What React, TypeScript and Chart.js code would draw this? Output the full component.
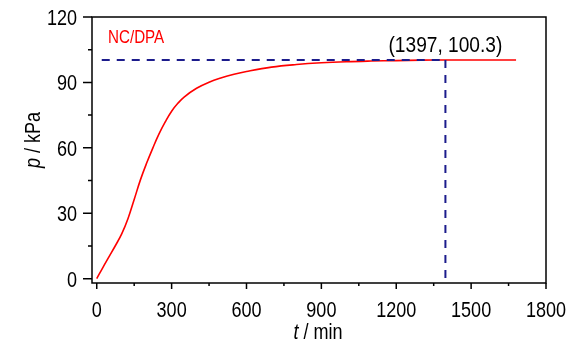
import React, { useEffect, useRef } from "react";
import { Chart, registerables } from "chart.js";

Chart.register(...registerables);

// ---- data ----
const timeMin = [0, 25, 50, 75, 100, 125, 150, 175, 200, 225, 250, 275, 300, 325, 350, 400, 450, 500, 550, 600, 700, 800, 900, 1000, 1100, 1200, 1300, 1400, 1500, 1600, 1680];
const pressureKPa = [0, 5.2, 10.2, 15.2, 20.5, 27.5, 36.3, 45.3, 53, 60, 66.5, 72, 76.8, 80.4, 83.3, 87.3, 90.1, 92.1, 93.7, 95.0, 97.0, 98.2, 99.0, 99.5, 99.8, 100.0, 100.2, 100.3, 100.3, 100.3, 100.3];

const xTickValues = [0, 300, 600, 900, 1200, 1500, 1800];
const xMinorTickValues = [150, 450, 750, 1050, 1350, 1650];
const yTickValues = [0, 30, 60, 90, 120];
const yMinorTickValues = [15, 45, 75, 105];

const markT = 1397;
const markP = 100.3;
const guideStartT = 20;
const markLabel = "(1397, 100.3)";
const seriesLabel = "NC/DPA";
const xTitleItalic = "t";
const xTitleRest = " / min";
const yTitleItalic = "p";
const yTitleRest = " / kPa";

const FONT = "'Liberation Sans', Arial, sans-serif";
const NAVY = "#1c1c8c";
const NARROW = 0.82;

// draw text made of parts [text, font] horizontally condensed by sx
function drawParts(ctx: CanvasRenderingContext2D, parts: [string, string][], x: number, y: number, align: "left" | "center" | "right", sx: number) {
  let total = 0;
  const widths: number[] = [];
  for (const [t, f] of parts) {
    ctx.font = f;
    const w = ctx.measureText(t).width;
    widths.push(w);
    total += w;
  }
  let start = 0;
  if (align === "center") start = -total / 2;
  else if (align === "right") start = -total;
  ctx.save();
  ctx.translate(x, y);
  ctx.scale(sx, 1);
  ctx.textAlign = "left";
  ctx.textBaseline = "alphabetic";
  let cx = start;
  parts.forEach(([t, f], i) => {
    ctx.font = f;
    ctx.fillText(t, cx, 0);
    cx += widths[i];
  });
  ctx.restore();
}

const decorPlugin = {
  id: "decor",
  afterDraw(chart: any) {
    const { ctx, chartArea, scales } = chart;
    const xs = scales.x;
    const ys = scales.y;
    ctx.save();
    // frame
    ctx.strokeStyle = "#000";
    ctx.lineWidth = 1.5;
    ctx.strokeRect(chartArea.left, chartArea.top, chartArea.right - chartArea.left, chartArea.bottom - chartArea.top);
    // ticks
    ctx.beginPath();
    for (const v of xTickValues) {
      const px = xs.getPixelForValue(v);
      ctx.moveTo(px, chartArea.bottom);
      ctx.lineTo(px, chartArea.bottom + 6);
    }
    for (const v of xMinorTickValues) {
      const px = xs.getPixelForValue(v);
      ctx.moveTo(px, chartArea.bottom);
      ctx.lineTo(px, chartArea.bottom + 3);
    }
    for (const v of yTickValues) {
      const py = ys.getPixelForValue(v);
      ctx.moveTo(chartArea.left, py);
      ctx.lineTo(chartArea.left - 9, py);
    }
    for (const v of yMinorTickValues) {
      const py = ys.getPixelForValue(v);
      ctx.moveTo(chartArea.left, py);
      ctx.lineTo(chartArea.left - 4, py);
    }
    ctx.stroke();

    const normal = `22px ${FONT}`;
    const italic = `italic 22px ${FONT}`;

    // tick labels
    ctx.fillStyle = "#000";
    for (const v of xTickValues) {
      drawParts(ctx, [[String(v), normal]], xs.getPixelForValue(v), chartArea.bottom + 34, "center", NARROW);
    }
    for (const v of yTickValues) {
      drawParts(ctx, [[String(v), normal]], chartArea.left - 15, ys.getPixelForValue(v) + 8, "right", NARROW);
    }

    // series label
    ctx.fillStyle = "#ff0000";
    drawParts(ctx, [[seriesLabel, `18.5px ${FONT}`]], chartArea.left + 16, 43, "left", NARROW);

    // mark label
    ctx.fillStyle = "#000";
    drawParts(ctx, [[markLabel, normal]], xs.getPixelForValue(markT), ys.getPixelForValue(markP) - 8, "center", 0.87);

    // x title
    drawParts(ctx, [[xTitleItalic, italic], [xTitleRest, normal]], (chartArea.left + chartArea.right) / 2 - 1, 339, "center", NARROW);

    // y title
    ctx.save();
    ctx.translate(40, 140);
    ctx.rotate(-Math.PI / 2);
    drawParts(ctx, [[yTitleItalic, italic], [yTitleRest, normal]], 0, 0, "center", NARROW);
    ctx.restore();

    ctx.restore();
  },
};

export default function App() {
  const canvasRef = useRef<HTMLCanvasElement | null>(null);

  useEffect(() => {
    const canvas = canvasRef.current;
    if (!canvas) return;
    const curve = timeMin.map((t, i) => ({ x: t, y: pressureKPa[i] }));
    const hGuide = [
      { x: guideStartT, y: markP },
      { x: markT, y: markP },
    ];
    const vGuide = [
      { x: markT, y: markP },
      { x: markT, y: 0 },
    ];
    const chart = new Chart(canvas, {
      type: "line",
      data: {
        datasets: [
          {
            label: "guide-h",
            data: hGuide,
            borderColor: NAVY,
            borderWidth: 2,
            borderDash: [8, 7],
            pointRadius: 0,
            order: 0,
          },
          {
            label: "guide-v",
            data: vGuide,
            borderColor: NAVY,
            borderWidth: 2,
            borderDash: [8, 7],
            pointRadius: 0,
            order: 0,
          },
          {
            label: seriesLabel,
            data: curve,
            borderColor: "#ff0000",
            borderWidth: 1.6,
            pointRadius: 0,
            tension: 0.4,
            order: 1,
          },
        ],
      },
      options: {
        animation: false,
        responsive: false,
        devicePixelRatio: 1,
        layout: { padding: { top: 17, right: 30, left: 0, bottom: 0 } },
        plugins: { legend: { display: false }, tooltip: { enabled: false } },
        scales: {
          x: {
            type: "linear",
            min: -19,
            max: 1800,
            grid: { display: false },
            border: { display: false },
            afterBuildTicks: (s: any) => {
              s.ticks = xTickValues.map((v) => ({ value: v }));
            },
            afterFit: (s: any) => {
              s.height = 61;
            },
            ticks: { display: false },
          },
          y: {
            type: "linear",
            min: -2,
            max: 120,
            grid: { display: false },
            border: { display: false },
            afterBuildTicks: (s: any) => {
              s.ticks = yTickValues.map((v) => ({ value: v }));
            },
            afterFit: (s: any) => {
              s.width = 92;
            },
            ticks: { display: false },
          },
        },
      },
      plugins: [decorPlugin],
    } as any);
    return () => chart.destroy();
  }, []);

  return (
    <div style={{ position: "absolute", left: 0, top: 0, width: 576, height: 344, background: "#fff" }}>
      <canvas ref={canvasRef} width={576} height={344} />
    </div>
  );
}
